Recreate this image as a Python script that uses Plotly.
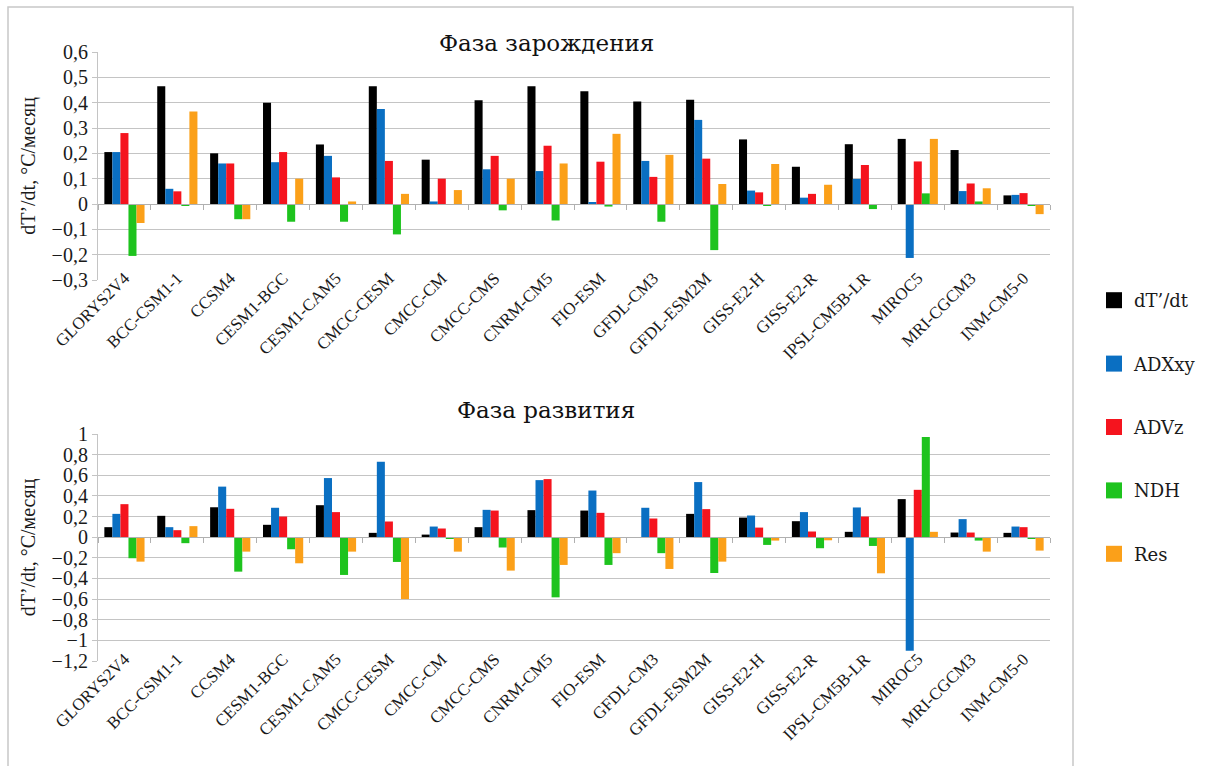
import plotly.graph_objects as go

# Models (categories on the x axis)
models = ["GLORYS2V4", "BCC-CSM1-1", "CCSM4", "CESM1-BGC", "CESM1-CAM5",
          "CMCC-CESM", "CMCC-CM", "CMCC-CMS", "CNRM-CM5", "FIO-ESM",
          "GFDL-CM3", "GFDL-ESM2M", "GISS-E2-H", "GISS-E2-R", "IPSL-CM5B-LR",
          "MIROC5", "MRI-CGCM3", "INM-CM5-0"]

series_names = ["dT’/dt", "ADXxy", "ADVz", "NDH", "Res"]
series_colors = ["#000000", "#0a6fc2", "#f5141e", "#1ec31e", "#fba019"]

# Фаза зарождения (onset phase), °C/month
onset_dTdt = [0.205, 0.465, 0.20, 0.40, 0.235, 0.465, 0.175, 0.41, 0.465, 0.445,
              0.405, 0.412, 0.255, 0.147, 0.236, 0.257, 0.213, 0.034]
onset_ADXxy = [0.205, 0.06, 0.16, 0.165, 0.19, 0.375, 0.01, 0.137, 0.13, 0.005,
               0.17, 0.332, 0.053, 0.025, 0.099, -0.213, 0.051, 0.036]
onset_ADVz = [0.28, 0.05, 0.16, 0.205, 0.105, 0.17, 0.10, 0.19, 0.23, 0.167,
              0.107, 0.179, 0.046, 0.04, 0.154, 0.168, 0.081, 0.043]
onset_NDH = [-0.205, -0.005, -0.06, -0.07, -0.07, -0.12, -0.003, -0.025, -0.065, -0.01,
             -0.07, -0.182, -0.005, -0.002, -0.02, 0.042, 0.01, -0.005]
onset_Res = [-0.075, 0.365, -0.06, 0.10, 0.01, 0.04, 0.055, 0.10, 0.16, 0.277,
             0.194, 0.079, 0.158, 0.076, 0.0, 0.257, 0.062, -0.04]

# Фаза развития (development phase), °C/month
devel_dTdt = [0.097, 0.207, 0.29, 0.12, 0.31, 0.042, 0.025, 0.097, 0.262, 0.258,
              0.0, 0.226, 0.19, 0.155, 0.052, 0.369, 0.045, 0.042]
devel_ADXxy = [0.226, 0.097, 0.49, 0.285, 0.573, 0.731, 0.103, 0.265, 0.553, 0.452,
               0.285, 0.534, 0.21, 0.243, 0.288, -1.10, 0.175, 0.103]
devel_ADVz = [0.32, 0.068, 0.275, 0.20, 0.243, 0.152, 0.084, 0.258, 0.563, 0.236,
              0.181, 0.272, 0.093, 0.055, 0.20, 0.459, 0.045, 0.097]
devel_NDH = [-0.204, -0.058, -0.334, -0.117, -0.366, -0.24, -0.014, -0.10, -0.583, -0.269,
             -0.155, -0.347, -0.075, -0.107, -0.085, 0.97, -0.033, -0.014]
devel_Res = [-0.237, 0.107, -0.14, -0.253, -0.14, -0.60, -0.14, -0.324, -0.269, -0.155,
             -0.308, -0.237, -0.033, -0.03, -0.35, 0.052, -0.14, -0.13]

onset = [onset_dTdt, onset_ADXxy, onset_ADVz, onset_NDH, onset_Res]
devel = [devel_dTdt, devel_ADXxy, devel_ADVz, devel_NDH, devel_Res]

W, H = 1222, 766
SERIF = "Liberation Serif"
WIDE_SERIF = "DejaVu Serif"
TEXT = "#1a1a1a"
GRID = "#c4c4c4"
YTITLE = "dT’/dt, °C/месяц"

top_range = [-0.3, 0.6]
bot_range = [-1.2, 1.0]
x_dom = [98 / W, 1050 / W]
top_dom = [1 - 280 / H, 1 - 52 / H]
bot_dom = [1 - 661 / H, 1 - 434 / H]
cat_range = [-0.5, len(models) - 0.5]

fig = go.Figure()

for i, name in enumerate(series_names):
    fig.add_trace(go.Bar(
        x=models, y=onset[i], name=name, marker_color=series_colors[i],
        marker_line_width=0, showlegend=False, xaxis="x", yaxis="y"))
for i, name in enumerate(series_names):
    fig.add_trace(go.Bar(
        x=models, y=devel[i], name=name, marker_color=series_colors[i],
        marker_line_width=0, showlegend=False, xaxis="x2", yaxis="y2"))

# Legend entries with larger square swatches
for i, name in enumerate(series_names):
    fig.add_trace(go.Scatter(
        x=[None], y=[None], mode="markers", name=name, legendgroup=name,
        marker=dict(symbol="square", size=18, color=series_colors[i]),
        xaxis="x", yaxis="y", hoverinfo="skip"))


def zero_pos(dom, rng):
    return dom[0] + (0 - rng[0]) / (rng[1] - rng[0]) * (dom[1] - dom[0])


xcat = dict(type="category", categoryorder="array", categoryarray=models,
            range=cat_range, domain=x_dom, showgrid=False, showline=False,
            automargin=False, ticks="", tickangle=-45, ticklabelstandoff=-16,
            tickfont=dict(family=SERIF, size=17, color=TEXT))

ycommon = dict(showgrid=True, gridcolor=GRID, gridwidth=1.2, zeroline=False,
               automargin=False, showline=True, linecolor=GRID, linewidth=1.2,
               ticks="outside", ticklen=5, tickcolor=GRID,
               tickfont=dict(family=SERIF, size=20, color=TEXT),
               title=dict(text=YTITLE, standoff=10,
                          font=dict(family=SERIF, size=20, color=TEXT)))

# Category axis drawn through zero with tick marks at group boundaries
zero_axis = dict(type="linear", range=cat_range, domain=x_dom, showgrid=False,
                 showline=True, linecolor="#b0b0b0", linewidth=1.2, ticks="outside",
                 ticklen=5, tickcolor="#b0b0b0", tick0=-0.5, dtick=1,
                 showticklabels=False, anchor="free", zeroline=False, automargin=False)

fig.update_layout(
    width=W, height=H,
    margin=dict(l=0, r=0, t=0, b=0, autoexpand=False),
    paper_bgcolor="white", plot_bgcolor="rgba(0,0,0,0)",
    separators=", ",
    barmode="group", bargap=0.24, bargroupgap=0,
    showlegend=True,
    xaxis=dict(xcat, anchor="y"),
    yaxis=dict(ycommon, domain=top_dom, range=top_range, dtick=0.1, anchor="x"),
    xaxis2=dict(xcat, anchor="y2"),
    yaxis2=dict(ycommon, domain=bot_dom, range=bot_range, dtick=0.2, anchor="x2"),
    xaxis3=dict(zero_axis, overlaying="x", position=zero_pos(top_dom, top_range)),
    xaxis4=dict(zero_axis, overlaying="x2", position=zero_pos(bot_dom, bot_range)),
    legend=dict(x=1094 / W, y=1 - 282 / H, xanchor="left", yanchor="top",
                font=dict(family=WIDE_SERIF, size=18, color=TEXT),
                tracegroupgap=37, itemwidth=30, bgcolor="rgba(0,0,0,0)"),
    annotations=[
        dict(text="Фаза зарождения", x=546 / W, y=1 - 28 / H, xref="paper", yref="paper",
             showarrow=False, font=dict(family=WIDE_SERIF, size=23, color="#111")),
        dict(text="Фаза развития", x=546 / W, y=1 - 410 / H, xref="paper", yref="paper",
             showarrow=False, font=dict(family=WIDE_SERIF, size=23, color="#111")),
    ],
    shapes=[
        dict(type="rect", xref="paper", yref="paper", x0=8 / W, x1=1073 / W,
             y0=-0.01, y1=1 - 7 / H, line=dict(color="#c8c8c8", width=1.5)),
    ],
)

# Empty traces so the overlay zero axes are rendered
fig.add_trace(go.Scatter(x=[], y=[], xaxis="x3", yaxis="y", showlegend=False, hoverinfo="skip"))
fig.add_trace(go.Scatter(x=[], y=[], xaxis="x4", yaxis="y2", showlegend=False, hoverinfo="skip"))

fig.write_html("out.html")
